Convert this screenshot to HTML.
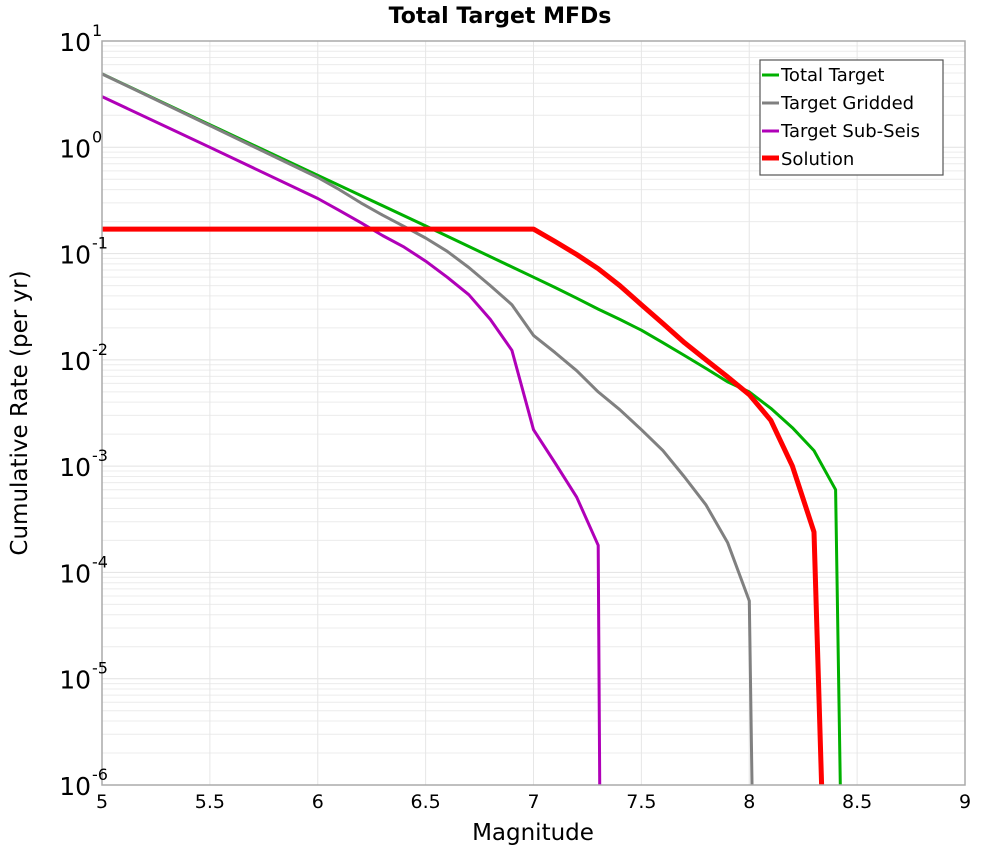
<!DOCTYPE html>
<html><head><meta charset="utf-8"><style>
html,body{margin:0;padding:0;background:#fff;}
svg{display:block;font-family:"DejaVu Sans","Liberation Sans",sans-serif;}
</style></head><body>
<svg id="chart" width="1000" height="850" viewBox="0 0 1000 850" xmlns="http://www.w3.org/2000/svg">
<text x="500" y="23" text-anchor="middle" font-size="22" font-weight="bold">Total Target MFDs</text>
<g id="grid"></g>
<g id="series"></g>
<rect x="102" y="41" width="863" height="744" fill="none" stroke="#aaa" stroke-width="1.5"/>
<g id="ticks"></g>
<text x="533" y="840" text-anchor="middle" font-size="23">Magnitude</text>
<text transform="translate(27,413) rotate(-90)" text-anchor="middle" font-size="23">Cumulative Rate (per yr)</text>
<g>
<rect x="760" y="60" width="183" height="115" fill="#fff" stroke="#555" stroke-width="1.2"/>
<g><line x1="762" y1="75" x2="779" y2="75" stroke="#00b000" stroke-width="3"/><text x="781" y="81" font-size="18">Total Target</text></g>
<g><line x1="762" y1="103" x2="779" y2="103" stroke="#808080" stroke-width="3"/><text x="781" y="109" font-size="18">Target Gridded</text></g>
<g><line x1="762" y1="131" x2="779" y2="131" stroke="#b000b8" stroke-width="3"/><text x="781" y="137" font-size="18">Target Sub-Seis</text></g>
<g><line x1="762" y1="158" x2="779" y2="158" stroke="#ff0000" stroke-width="5"/><text x="781" y="165" font-size="18">Solution</text></g>
</g>
</svg>
<script>
const xTicks=[5,5.5,6,6.5,7,7.5,8,8.5,9];
const yDecades=[1,0,-1,-2,-3,-4,-5,-6];
const totalMags=[5,5.5,6,6.5,7,7.1,7.2,7.3,7.4,7.5,7.6,7.7,7.8,7.9,8.0,8.1,8.2,8.3,8.4,8.43];
const totalVals=[4.9,1.63,0.545,0.182,0.060,0.048,0.038,0.030,0.024,0.019,0.0145,0.011,0.0083,0.0062,0.0050,0.0035,0.0023,0.0014,0.0006,1e-7];
const griddedMags=[5,5.5,6,6.1,6.2,6.3,6.4,6.5,6.6,6.7,6.8,6.9,7.0,7.1,7.2,7.3,7.4,7.5,7.6,7.7,7.8,7.9,8.0,8.02];
const griddedVals=[4.9,1.6,0.52,0.40,0.30,0.23,0.18,0.14,0.105,0.074,0.050,0.033,0.017,0.0117,0.0079,0.0050,0.0034,0.0022,0.0014,0.00079,0.00043,0.00019,0.000054,1e-7];
const subSeisMags=[5,5.5,6,6.1,6.2,6.3,6.4,6.5,6.6,6.7,6.8,6.9,7.0,7.1,7.2,7.3,7.31];
const subSeisVals=[3.0,1.0,0.33,0.255,0.195,0.148,0.115,0.085,0.060,0.041,0.024,0.0123,0.0022,0.00107,0.00051,0.00018,1e-7];
const solutionMags=[5,7.0,7.1,7.2,7.3,7.4,7.5,7.6,7.7,7.8,7.9,8.0,8.1,8.2,8.3,8.35];
const solutionVals=[0.17,0.17,0.13,0.098,0.072,0.050,0.033,0.022,0.0145,0.010,0.0069,0.0047,0.0027,0.0010,0.00024,1e-7];

const X0=102,X1=965,Y0=41,Y1=785;
function xs(m){return X0+(m-5)/4*(X1-X0);}
function ys(v){return Y0+(1-Math.log10(v))/7*(Y1-Y0);}
const NS="http://www.w3.org/2000/svg";
function mk(tag,attrs,parent){const e=document.createElementNS(NS,tag);for(const k in attrs)e.setAttribute(k,attrs[k]);parent.appendChild(e);return e;}
const grid=document.getElementById('grid');
for(let d=-6;d<1;d++){for(let k=1;k<10;k++){const y=ys(k*Math.pow(10,d));
 const l=mk('line',{x1:X0,x2:X1,y1:y,y2:y,stroke:k===1?'#e2e2e2':'#ececec','stroke-width':1},grid);
 
 }}
xTicks.forEach(t=>{const x=xs(t);const l=mk('line',{x1:x,x2:x,y1:Y0,y2:Y1,stroke:'#e6e6e6','stroke-width':1},grid);
 
 });
const ticks=document.getElementById('ticks');
xTicks.forEach(t=>{const e=mk('text',{x:xs(t),y:808,'text-anchor':'middle','font-size':19},ticks);e.textContent=String(t);
 
 });
yDecades.forEach(d=>{const y=ys(Math.pow(10,d));
 const g=mk('text',{x:91,y:y+10,'text-anchor':'end','font-size':25},ticks);g.textContent='10';
 
 
 const s=mk('text',{x:92,y:y-5,'text-anchor':'start','font-size':16},ticks);s.textContent=String(d);
 
 });
const series=document.getElementById('series');
const clip=mk('clipPath',{id:'pc'},series);mk('rect',{x:X0,y:Y0,width:X1-X0,height:Y1-Y0},clip);
function draw(mags,vals,color,w,name){const pts=mags.map((m,i)=>xs(m).toFixed(1)+','+ys(vals[i]).toFixed(1)).join(' ');
 const p=mk('polyline',{points:pts,fill:'none',stroke:color,'stroke-width':w,'stroke-linejoin':'round','clip-path':'url(#pc)'},series);
 
 }
draw(totalMags,totalVals,'#00b000',3,'total-target-line');
draw(griddedMags,griddedVals,'#808080',3,'target-gridded-line');
draw(subSeisMags,subSeisVals,'#b000b8',3,'target-sub-seis-line');
draw(solutionMags,solutionVals,'#ff0000',5,'solution-line');
</script>
</body></html>
